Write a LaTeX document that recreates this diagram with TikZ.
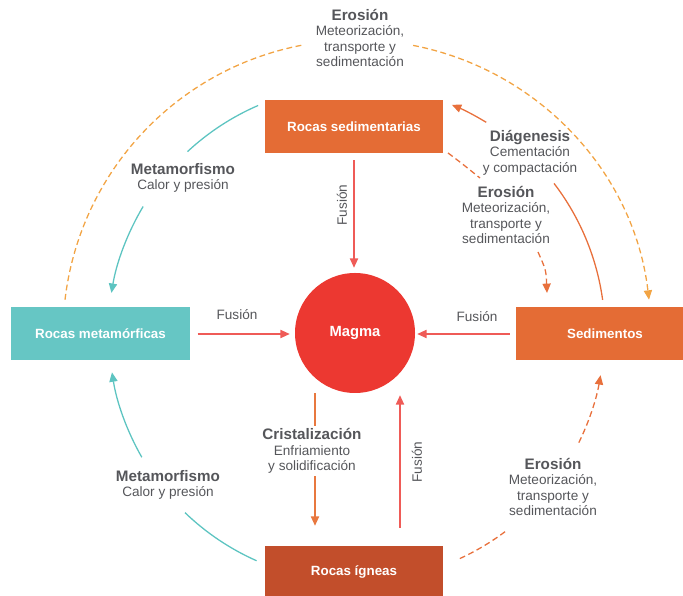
\documentclass[tikz,border=0pt]{standalone}
\usepackage{fontspec}
\setmainfont{Liberation Sans}
\usetikzlibrary{arrows.meta}

\definecolor{sedorange}{HTML}{E46C35}
\definecolor{metteal}{HTML}{66C6C4}
\definecolor{metline}{HTML}{5DC4C1}
\definecolor{ignred}{HTML}{C24E2B}
\definecolor{magred}{HTML}{EC3831}
\definecolor{fusred}{HTML}{EF5B57}
\definecolor{crorange}{HTML}{E8783F}
\definecolor{eroorange}{HTML}{E8703C}
\definecolor{outdash}{HTML}{F2A444}
\definecolor{lbltext}{HTML}{55565A}

\newcommand{\lblhead}[1]{{\fontsize{13}{13.2}\selectfont\bfseries #1}}

\begin{document}
\begin{tikzpicture}[x=0.03cm,y=0.03cm,
    box/.style={rectangle, minimum width=5.34cm, minimum height=1.59cm, inner sep=0pt,
                text=white, font=\bfseries\fontsize{11.4}{13}\selectfont},
    lbl/.style={text=lbltext, align=center, font=\fontsize{11.6}{13.2}\selectfont, inner sep=2pt},
    arrowed/.style={-{Triangle[length=8pt,width=7pt]}},
    fusion/.style={draw=fusred, line width=1.1pt, arrowed},
    crist/.style={draw=crorange, line width=1.1pt},
    tealarc/.style={draw=metline, line width=1.1pt},
    diagarc/.style={draw=eroorange, line width=1.1pt},
    eroarc/.style={draw=eroorange, line width=1.1pt, dash pattern=on 5pt off 3pt},
    outarc/.style={draw=outdash, line width=1.1pt, dash pattern=on 5pt off 3pt}]
  \useasboundingbox (0,0) rectangle (683,595);
  \coordinate (o) at (357,261);

  % rocks and magma
  \node[box, fill=sedorange] (sed) at (354,468.5) {Rocas sedimentarias};
  \node[box, fill=metteal] (met) at (100.5,261) {Rocas metamórficas};
  \node[box, fill=sedorange] (sedim) at (605,261) {Sedimentos};
  \node[box, fill=ignred] (ign) at (354,22.5) {Rocas ígneas};
  \node[circle, fill=magred, minimum size=3.6cm, inner sep=0pt, text=white,
        font=\bfseries\fontsize{12.6}{14}\selectfont] (mag) at (355,262) {Magma};

  % labels
  \node[lbl] (eroTop) at (360,557) {\lblhead{Erosión}\\Meteorización,\\transporte y\\sedimentación};
  \node[lbl] (metTop) at (183,417) {\lblhead{Metamorfismo}\\Calor y presión};
  \node[lbl] (metBot) at (168,110) {\lblhead{Metamorfismo}\\Calor y presión};
  \node[lbl] (diag) at (530,442.5) {\lblhead{Diágenesis}\\Cementación\\y compactación};
  \node[lbl] (eroIn) at (506,380) {\lblhead{Erosión}\\Meteorización,\\transporte y\\sedimentación};
  \node[lbl] (eroBot) at (553,108) {\lblhead{Erosión}\\Meteorización,\\transporte y\\sedimentación};
  \node[lbl] (crLbl) at (312,144) {\lblhead{Cristalización}\\Enfriamiento\\y solidificación};
  \node[lbl, rotate=90] (fusA) at (342,390) {Fusión};
  \node[lbl] (fusB) at (237,280) {Fusión};
  \node[lbl] (fusC) at (477,278) {Fusión};
  \node[lbl, rotate=90] (fusD) at (417,133) {Fusión};

  % fusion
  \draw[fusion, shorten <=2.1mm, shorten >=1.5mm] (sed.south) -- (sed.south |- mag.north);
  \draw[fusion, shorten <=2.4mm, shorten >=1.5mm] (met.east) -- (met.east -| mag.west);
  \draw[fusion, shorten <=1.8mm, shorten >=0.6mm] (sedim.west) -- (sedim.west -| mag.east);
  \draw[fusion, shorten <=5.4mm, shorten >=0.6mm] ([xshift=1.38cm]ign.north) -- ([xshift=1.38cm]ign.north |- mag.south);

  % cristalizacion
  \coordinate (cr) at ([xshift=-1.2cm]mag.south);
  \draw[crist] (cr) -- (cr |- crLbl.north);
  \draw[crist, arrowed, shorten >=6mm] (cr |- crLbl.south) -- (cr |- ign.north);

  % outer erosion
  \draw[outarc] (o) ++(173.3:294) arc[start angle=173.3, end angle=100.8, radius=294];
  \draw[outarc, arrowed] (o) ++(79:294) arc[start angle=79, end angle=6.7, radius=294];

  % metamorfismo
  \draw[tealarc] (o) ++(113.4:249) arc[start angle=113.4, end angle=132.9, radius=249];
  \draw[tealarc, arrowed] (o) ++(149.2:249) arc[start angle=149.2, end angle=170.5, radius=249];
  \draw[tealarc] (o) ++(246.1:248) arc[start angle=246.1, end angle=226.1, radius=248];
  \draw[tealarc, arrowed] (o) ++(209.8:248) arc[start angle=209.8, end angle=188.9, radius=248];

  % diagenesis
  \draw[diagarc] (o) ++(7.9:248) arc[start angle=7.9, end angle=37.4, radius=248];
  \draw[diagarc, arrowed] (o) ++(58.6:248) arc[start angle=58.6, end angle=67.5, radius=248];

  % erosion
  \draw[eroarc] (o) ++(-65.4:247) arc[start angle=-65.4, end angle=-52.6, radius=247];
  \draw[eroarc, arrowed] (o) ++(-26.1:247) arc[start angle=-26.1, end angle=-9.6, radius=247];
  \draw[eroarc] (448,442) .. controls (460,433) .. (480,417);
  \draw[eroarc, arrowed] (538,343) .. controls (546,325) .. (547,302);
\end{tikzpicture}
\end{document}
